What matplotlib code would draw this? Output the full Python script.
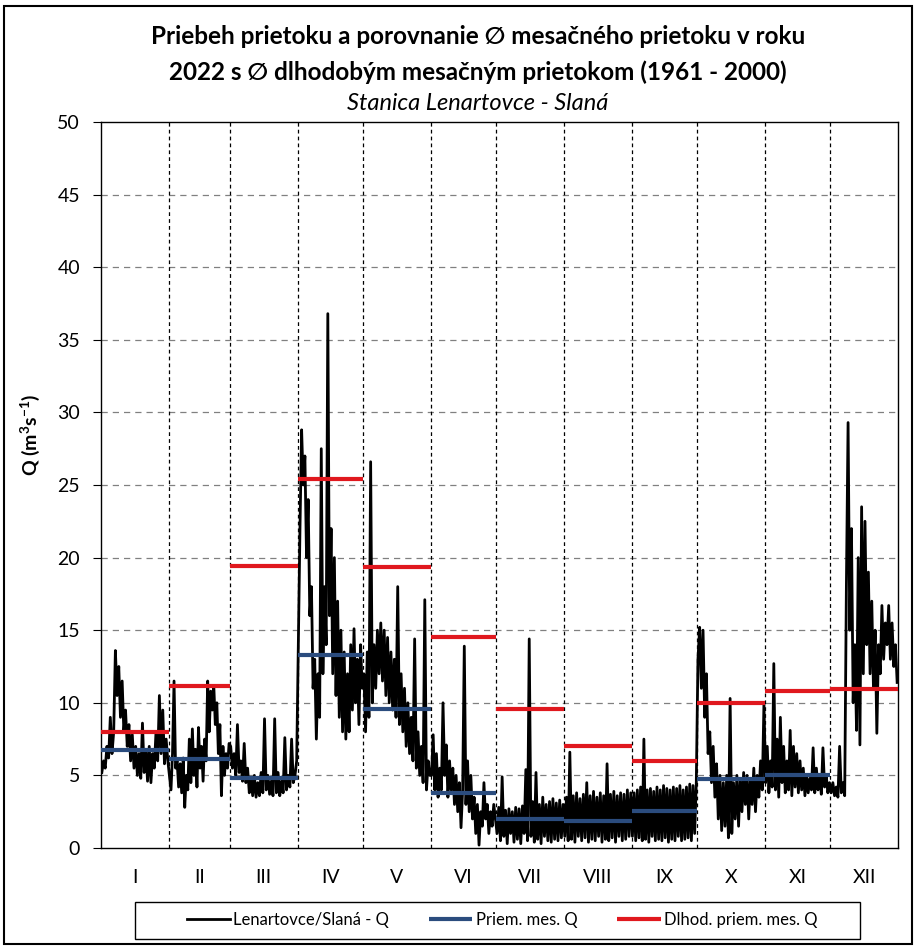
import numpy as np
import matplotlib
matplotlib.use("Agg")
from matplotlib import pyplot as plt
from matplotlib.patches import Rectangle

plt.rcParams['font.family'] = ['Lato', 'DejaVu Sans']
plt.rcParams['mathtext.fontset'] = 'custom'
plt.rcParams['mathtext.rm'] = 'Lato'
plt.rcParams['mathtext.bf'] = 'Lato:bold'

months = ["I", "II", "III", "IV", "V", "VI", "VII", "VIII", "IX", "X", "XI", "XII"]
month_days = [31, 28, 31, 30, 31, 30, 31, 31, 30, 31, 30, 31]

# mean monthly discharge 2022 (XII not available)
mean_2022 = [6.75, 6.1, 4.8, 13.3, 9.6, 3.8, 2.0, 1.85, 2.55, 4.75, 5.0, None]
# long-term mean monthly discharge 1961 - 2000
mean_longterm = [8.0, 11.15, 19.4, 25.4, 19.35, 14.5, 9.6, 7.0, 6.0, 10.0, 10.8, 10.95]

# discharge Q, month by month
q_jan = [5.2, 6.0, 5.5, 7.0, 6.2, 9.0, 6.5, 8.0, 13.6, 10.5, 12.5, 9.0, 11.5, 8.0, 9.5, 7.0,
         8.5, 6.0, 7.8, 5.5, 7.0, 5.0, 6.5, 4.8, 8.6, 5.2, 6.8, 4.6, 7.0, 4.5, 6.5, 5.5,
         8.0, 6.0, 10.5, 6.5, 9.5, 5.8, 7.5, 6.0]
q_feb = [5.0, 4.0, 6.5, 11.5, 5.5, 6.0, 4.2, 5.8, 3.8, 6.2, 2.8, 5.0, 4.0, 7.5, 4.5, 8.2,
         5.0, 6.8, 4.2, 8.3, 5.5, 7.0, 4.6, 7.5, 6.0, 11.5, 8.0, 10.8, 9.5, 11.2, 8.5, 10.0,
         6.5, 8.5, 3.6, 7.0, 5.0, 6.5, 5.5, 7.2]
q_mar = [7.0, 5.5, 6.5, 5.0, 8.5, 5.2, 6.0, 4.6, 7.2, 4.5, 5.5, 3.8, 4.8, 3.6, 5.0, 3.5,
         4.5, 3.6, 5.2, 3.8, 8.9, 4.0, 5.0, 3.7, 4.6, 3.6, 8.9, 3.8, 5.2, 3.6, 4.6, 3.8,
         7.6, 4.0, 5.0, 4.2, 7.5, 4.5, 5.0, 6.0]
q_apr = [14.0, 22.0, 28.8, 25.0, 27.0, 20.0, 24.0, 16.0, 18.0, 11.0, 13.0, 7.5, 12.0, 9.0,
         27.5, 12.0, 18.0, 14.0, 36.8, 16.0, 22.0, 12.0, 20.0, 10.5, 17.0, 9.0, 15.0, 8.0,
         13.5, 7.5, 12.0, 8.0, 14.0, 9.5, 15.1, 10.0, 13.0, 8.5, 14.0, 11.0]
q_may = [12.0, 8.0, 13.5, 9.0, 26.6, 10.0, 14.0, 11.0, 15.0, 12.0, 15.5, 11.5, 15.0, 10.5,
         14.5, 10.0, 13.5, 9.5, 13.0, 9.0, 18.0, 8.5, 12.0, 8.0, 11.0, 7.0, 10.0, 6.5, 9.0,
         6.0, 14.4, 5.5, 8.0, 5.0, 7.0, 4.5, 17.1, 4.0, 6.0, 5.0]
q_jun = [5.0, 7.8, 4.0, 6.5, 3.5, 5.5, 4.0, 10.0, 5.0, 7.1, 3.5, 6.0, 4.0, 5.5, 3.0, 5.0,
         2.5, 4.5, 1.4, 4.0, 13.9, 3.0, 6.0, 2.5, 5.0, 2.0, 3.5, 1.0, 3.0, 0.2, 2.5, 1.5,
         4.5, 2.0, 3.0, 1.0, 2.5, 1.5, 3.0, 2.0]
q_jul = [1.0, 2.8, 0.5, 4.9, 0.8, 2.6, 0.3, 2.7, 1.0, 2.5, 0.4, 2.8, 0.6, 2.7, 0.3, 2.9,
         1.0, 5.4, 0.5, 14.4, 0.8, 3.2, 0.4, 5.2, 0.6, 3.0, 0.3, 3.5, 0.8, 3.0, 0.5, 3.2,
         0.4, 3.4, 0.6, 3.1, 0.5, 3.3, 0.7, 3.0]
q_aug = [0.8, 3.5, 0.5, 6.6, 0.6, 3.6, 0.4, 3.8, 0.8, 3.4, 0.5, 3.7, 0.7, 4.5, 0.4, 3.6,
         0.6, 3.9, 0.5, 3.5, 0.8, 3.8, 0.4, 3.6, 0.6, 5.8, 0.5, 3.7, 0.7, 3.9, 0.4, 3.6,
         0.8, 3.8, 0.5, 3.7, 0.6, 4.0, 0.8, 3.8]
q_sep = [0.8, 3.8, 0.5, 4.0, 0.7, 4.2, 0.5, 7.5, 0.6, 4.0, 0.4, 4.1, 0.8, 3.9, 0.5, 4.2,
         0.6, 4.0, 0.5, 4.3, 0.7, 4.1, 0.4, 4.0, 0.6, 4.2, 0.5, 4.1, 0.8, 4.3, 0.5, 4.0,
         0.6, 4.2, 0.7, 4.4, 0.5, 4.3, 1.0, 4.5]
q_oct = [13.0, 15.2, 11.0, 15.0, 9.0, 12.0, 6.5, 8.0, 4.5, 7.0, 3.5, 5.8, 2.0, 5.0, 1.2,
         4.5, 1.5, 5.0, 0.7, 10.3, 1.0, 4.5, 2.0, 5.0, 1.5, 4.8, 2.5, 5.2, 3.0, 5.0, 2.0,
         4.8, 3.0, 5.5, 2.5, 5.0, 3.5, 6.0, 4.0, 10.0]
q_nov = [4.5, 7.0, 3.8, 6.0, 4.2, 12.7, 4.0, 7.5, 3.5, 9.0, 4.5, 7.0, 3.8, 6.0, 4.0, 8.1,
         3.6, 7.0, 4.2, 6.5, 3.8, 6.0, 4.0, 5.5, 3.6, 5.0, 3.8, 4.8, 4.0, 6.9, 3.8, 5.5,
         4.0, 5.0, 3.7, 6.9, 4.2, 5.0, 3.8, 4.5]
q_dec = [3.8, 4.5, 3.6, 4.2, 3.5, 7.0, 3.8, 4.5, 3.6, 18.0, 29.3, 15.0, 22.0, 10.0, 14.0,
         8.1, 20.0, 7.1, 23.5, 12.0, 22.5, 14.0, 19.0, 12.0, 17.0, 11.0, 15.0, 7.9, 14.0,
         12.0, 16.7, 13.0, 15.5, 14.0, 16.7, 13.0, 15.5, 12.5, 14.0, 11.4]

q_months = [q_jan, q_feb, q_mar, q_apr, q_may, q_jun, q_jul, q_aug, q_sep, q_oct, q_nov, q_dec]

c_black = "#000000"
c_blue = "#2B4C7E"
c_red = "#E0181E"

bounds = np.concatenate([[0], np.cumsum(month_days)])
mids = (bounds[:-1] + bounds[1:]) / 2

# spread each month's readings evenly over its days
t_all, q_all = [], []
for i, vals in enumerate(q_months):
    n = len(vals)
    t_all.append(bounds[i] + (np.arange(n) + 0.5) * month_days[i] / n)
    q_all.append(vals)
t_all = np.concatenate(t_all)
q_all = np.concatenate(q_all)

fig = plt.figure(figsize=(9.16, 9.48), dpi=100)
ax = fig.add_axes([101 / 916, 1 - 848 / 948, 797 / 916, 726 / 948])

# grid
for y in range(5, 50, 5):
    ax.axhline(y, color="#808080", lw=0.9, ls=(0, (5, 4)), zorder=0)
for b in bounds[1:-1]:
    ax.axvline(b, color="black", lw=0.9, ls=(0, (3, 2.5)), zorder=0)

ax.plot(t_all, q_all, color=c_black, lw=2.0, zorder=2, label="Lenartovce/Slaná - Q")

first_b, first_r = True, True
for i in range(12):
    if mean_2022[i] is not None:
        ax.plot([bounds[i], bounds[i + 1]], [mean_2022[i]] * 2, color=c_blue, lw=3,
                solid_capstyle="butt", zorder=3,
                label="Priem. mes. Q" if first_b else None)
        first_b = False
    ax.plot([bounds[i], bounds[i + 1]], [mean_longterm[i]] * 2, color=c_red, lw=3,
            solid_capstyle="butt", zorder=3,
            label="Dlhod. priem. mes. Q" if first_r else None)
    first_r = False

ax.set_xlim(0, 365)
ax.set_ylim(0, 50)
ax.set_yticks(range(0, 51, 5))
ax.tick_params(axis="y", direction="out", length=6, labelsize=14, pad=9)
ax.set_xticks(bounds)
ax.set_xticklabels([])
ax.tick_params(axis="x", which="major", length=0)
ax.set_xticks(mids, minor=True)
ax.set_xticklabels(months, minor=True)
ax.tick_params(axis="x", which="minor", length=0, labelsize=14, pad=15)
for s in ax.spines.values():
    s.set_color("black")
    s.set_linewidth(1.0)

fig.text(30 / 916, 1 - 435 / 948, r"Q (m$\mathbf{^{3}}$s$\mathbf{^{-1}}$)", rotation=90,
         ha="center", va="center", fontsize=14, fontweight="bold")

title_x = 478 / 916
fig.text(title_x, 1 - 36 / 948, "Priebeh prietoku a porovnanie ∅ mesačného prietoku v roku",
         ha="center", va="center", fontsize=17.5, fontweight="bold")
fig.text(title_x, 1 - 72 / 948, "2022 s ∅ dlhodobým mesačným prietokom (1961 - 2000)",
         ha="center", va="center", fontsize=17.5, fontweight="bold")
fig.text(title_x, 1 - 103 / 948, "Stanica Lenartovce - Slaná", ha="center", va="center",
         fontsize=17, style="italic")

# legend box and legend
fig.patches.append(Rectangle((135 / 916, 1 - 939 / 948), 725 / 916, 37 / 948,
                             transform=fig.transFigure, fill=False, edgecolor="black",
                             lw=1.0))
fig.legend(loc="center", bbox_to_anchor=(502 / 916, 1 - 920 / 948), ncol=3,
           frameon=False, fontsize=12, handlelength=2.6, handletextpad=0.2,
           columnspacing=2.4)

# outer chart border
fig.patches.append(Rectangle((4 / 916, 4 / 948), 908 / 916, 938 / 948,
                             transform=fig.transFigure, fill=False, edgecolor="black",
                             lw=1.5))

fig.savefig("out.png", dpi=100)
